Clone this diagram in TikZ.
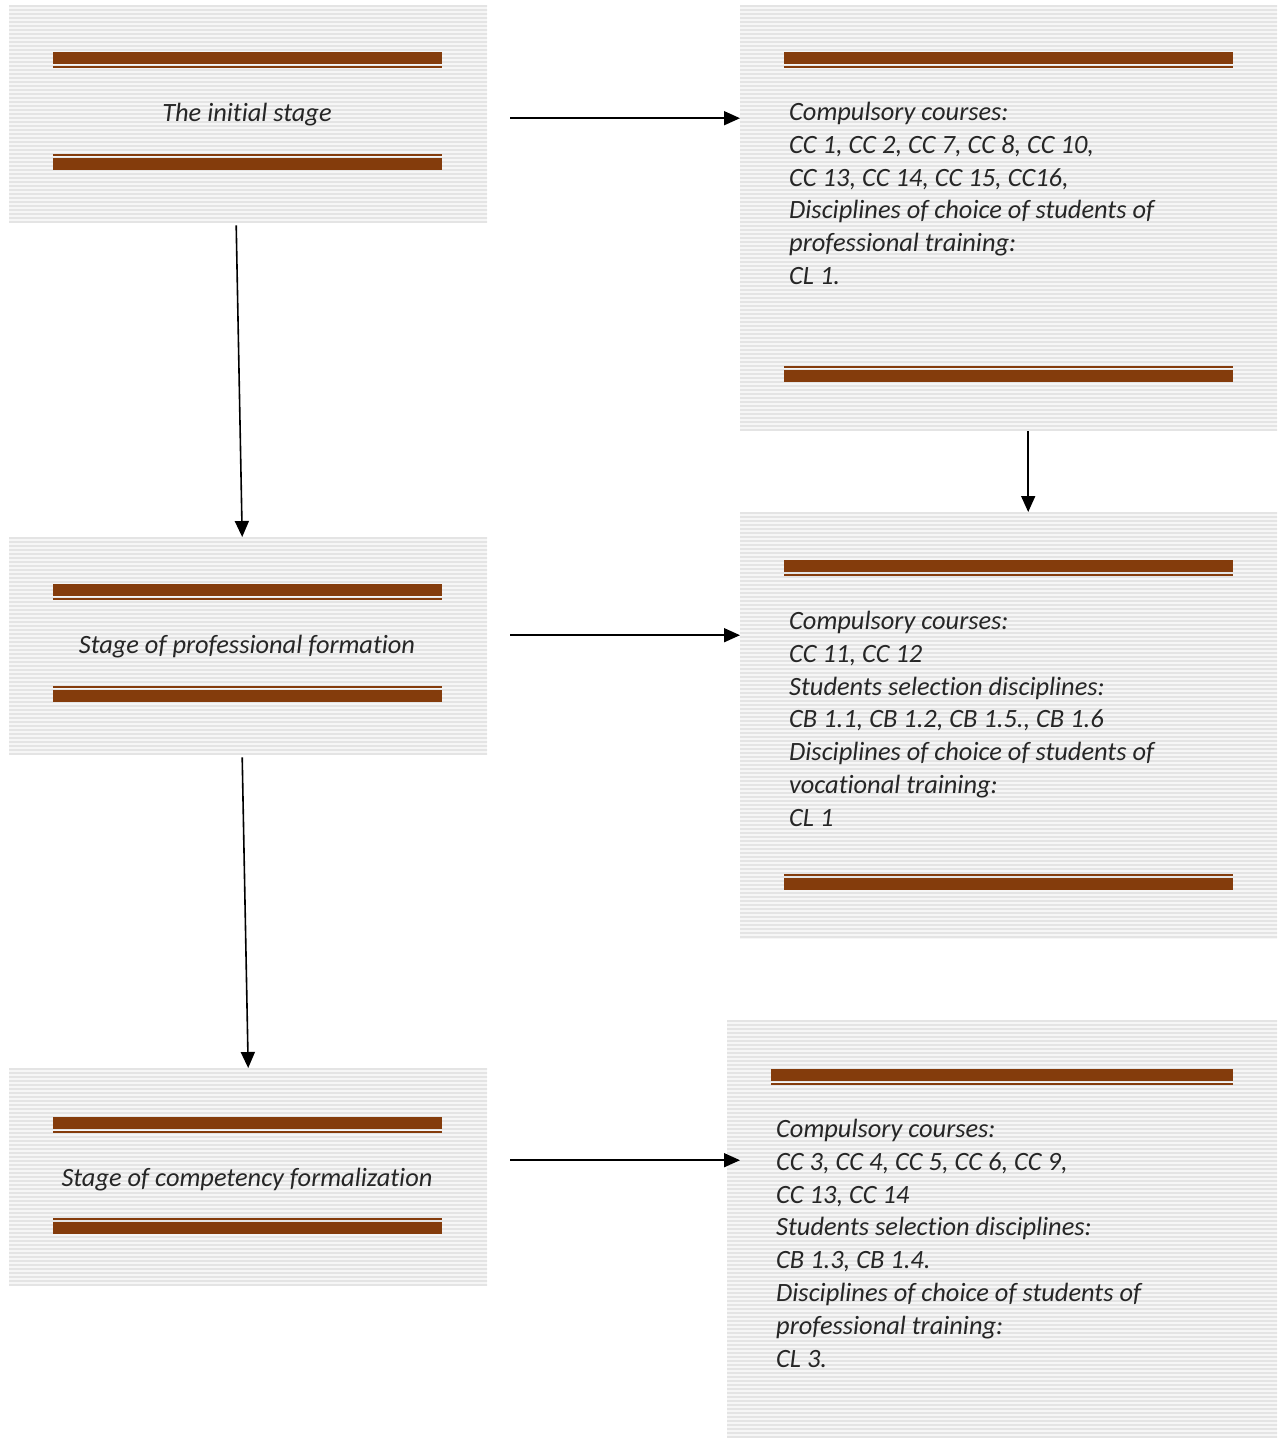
\documentclass[tikz,border=0pt]{standalone}
\usepackage{fontspec}
\setmainfont[Ligatures=NoCommon]{Carlito}
\usetikzlibrary{arrows.meta,calc}
\definecolor{barbrown}{HTML}{843C0C}
\definecolor{stripegray}{HTML}{E4E4E4}
\definecolor{stripebg}{HTML}{F6F6F6}
\tikzset{
  stripebox/.style={draw=none, fill=stripebg, inner sep=0pt, anchor=north west,
    path picture={\foreach \i in {1,5,...,450} \draw[stripegray, line width=2pt]
      ([yshift=-\i pt]path picture bounding box.north west) -- ++(700pt,0);}},
  thickbar/.style={fill=barbrown, draw=none},
  txt/.style={font=\itshape\fontsize{26.4}{32.8}\selectfont, text=black!85, inner sep=0pt},
  conn/.style={-{Triangle[length=16pt,width=14pt]}, line width=1.6pt, black},
}
\begin{document}
\begin{tikzpicture}[x=1pt,y=-1pt]
\useasboundingbox (0,0) rectangle (1280,1438);
% boxes
\node[stripebox, minimum width=478pt, minimum height=218pt] (A) at (9,5) {};
\node[stripebox, minimum width=537pt, minimum height=426pt] (B) at (740,5) {};
\node[stripebox, minimum width=478pt, minimum height=218pt] (C) at (9,537) {};
\node[stripebox, minimum width=537pt, minimum height=427pt] (D) at (740,512) {};
\node[stripebox, minimum width=478pt, minimum height=218pt] (E) at (9,1068) {};
\node[stripebox, minimum width=550pt, minimum height=418pt] (F) at (727,1020) {};
% bars: left boxes
\foreach \t/\b in {52/158, 584/690, 1117/1222}{
  \fill[thickbar] (53,\t) rectangle (442,\t+12);
  \fill[thickbar] (53,\t+14) rectangle (442,\t+16);
  \fill[thickbar] (53,\b-4) rectangle (442,\b-2);
  \fill[thickbar] (53,\b) rectangle (442,\b+12);
}
% right boxes
\fill[thickbar] (784,52) rectangle (1233,64);
\fill[thickbar] (784,66) rectangle (1233,68);
\fill[thickbar] (784,366) rectangle (1233,368);
\fill[thickbar] (784,370) rectangle (1233,382);
\fill[thickbar] (784,560) rectangle (1233,572);
\fill[thickbar] (784,574) rectangle (1233,576);
\fill[thickbar] (784,874) rectangle (1233,876);
\fill[thickbar] (784,878) rectangle (1233,890);
\fill[thickbar] (771,1069) rectangle (1233,1081);
\fill[thickbar] (771,1083) rectangle (1233,1085);
% texts
\node[txt] (ta) at (247,115) {The initial stage};
\node[txt] (tc) at (247,647) {Stage of professional formation};
\node[txt] (te) at (247,1180) {Stage of competency formalization};
\node[txt, align=left, anchor=north west] (tb) at (789,102) {Compulsory courses:\\CC 1, CC 2, CC 7, CC 8, CC 10,\\CC 13, CC 14, CC 15, CC16,\\Disciplines of choice of students of\\professional training:\\CL 1.};
\node[txt, align=left, anchor=north west] (td) at (789,611) {Compulsory courses:\\CC 11, CC 12\\Students selection disciplines:\\CB 1.1, CB 1.2, CB 1.5., CB 1.6\\Disciplines of choice of students of\\vocational training:\\CL 1};
\node[txt, align=left, anchor=north west] (tf) at (776,1119) {Compulsory courses:\\CC 3, CC 4, CC 5, CC 6, CC 9,\\CC 13, CC 14\\Students selection disciplines:\\CB 1.3, CB 1.4.\\Disciplines of choice of students of\\professional training:\\CL 3.};
% connectors
\draw[conn] ($(A.east)+(23,4)$) -- ($(A.east -| B.west)+(0,4)$);
\draw[conn] ($(A.south)+(-12,2)$) -- ($(C.north)+(-6,0)$);
\draw[conn] ($(B.south)+(19.5,0)$) -- ($(D.north)+(19.5,0)$);
\draw[conn] ($(C.east)+(23,-11)$) -- ($(C.east -| D.west)+(0,-11)$);
\draw[conn] ($(C.south)+(-6,2)$) -- ($(E.north)+(0,0)$);
\draw[conn] ($(E.east)+(23,-17)$) -- ($(E.east -| D.west)+(0,-17)$);
\end{tikzpicture}
\end{document}
